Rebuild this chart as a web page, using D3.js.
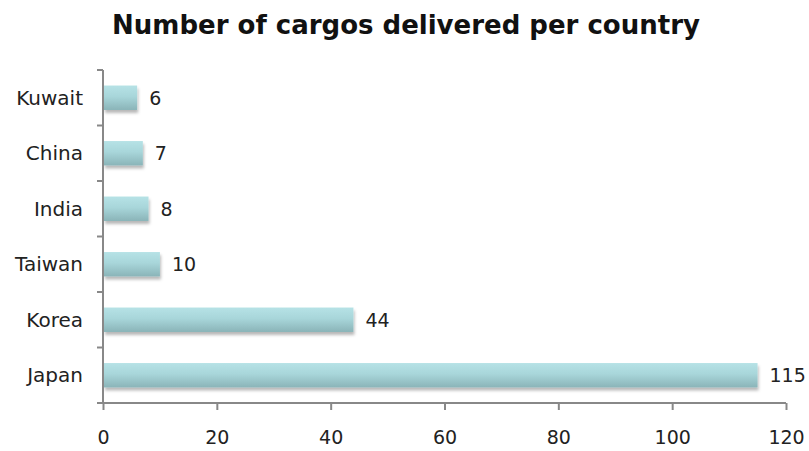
<!DOCTYPE html>
<html>
<head>
<meta charset="utf-8">
<script src="https://cdn.jsdelivr.net/npm/d3@7"></script>
<style>
  html, body { margin: 0; padding: 0; background: #fff; }
  svg { display: block; }
</style>
</head>
<body>
<svg id="chart" width="809" height="451"></svg>
<script>
const countries = ["Kuwait", "China", "India", "Taiwan", "Korea", "Japan"];
const cargos = [6, 7, 8, 10, 44, 115];
const xTicks = [0, 20, 40, 60, 80, 100, 120];
const title = "Number of cargos delivered per country";

const svg = d3.select("#chart");
const margin = { top: 70, right: 23, bottom: 48, left: 103 };
const W = 809, H = 451;
const fontFam = "'DejaVu Sans', sans-serif";

const x = d3.scaleLinear().domain([0, 120]).range([margin.left, W - margin.right]);
const y = d3.scaleBand().domain(countries).range([margin.top, H - margin.bottom]).paddingInner(0.56).paddingOuter(0.28);

// bar fill: pale teal fading darker towards the bottom, with a soft drop shadow
const defs = svg.append("defs");
const grad = defs.append("linearGradient").attr("id", "barGrad").attr("x1", 0).attr("y1", 0).attr("x2", 0).attr("y2", 1);
grad.append("stop").attr("offset", "0%").attr("stop-color", "#b6e2e6");
grad.append("stop").attr("offset", "45%").attr("stop-color", "#a8d6da");
grad.append("stop").attr("offset", "100%").attr("stop-color", "#8ab4b8");
const shadow = defs.append("filter").attr("id", "shadow").attr("x", "-5%").attr("y", "-30%").attr("width", "115%").attr("height", "180%");
shadow.append("feDropShadow").attr("dx", 1).attr("dy", 3).attr("stdDeviation", 1.5).attr("flood-color", "#000").attr("flood-opacity", 0.28);

svg.append("text")
  .attr("x", 406).attr("y", 34)
  .attr("text-anchor", "middle")
  .attr("font-family", fontFam)
  .attr("font-weight", "bold")
  .attr("font-size", 26)
  .attr("fill", "#111")
  .text(title);

const data = countries.map((c, i) => ({ country: c, value: cargos[i] }));

svg.append("g").selectAll("rect").data(data).join("rect")
  .attr("x", x(0) + 1)
  .attr("y", d => y(d.country))
  .attr("width", d => x(d.value) - x(0) - 1)
  .attr("height", y.bandwidth())
  .attr("fill", "url(#barGrad)")
  .attr("filter", "url(#shadow)");

// value labels at the bar ends
svg.append("g").selectAll("text").data(data).join("text")
  .attr("x", d => x(d.value) + 12)
  .attr("y", d => y(d.country) + y.bandwidth() / 2)
  .attr("dy", "0.36em")
  .attr("font-family", fontFam)
  .attr("font-size", 19)
  .attr("fill", "#222")
  .text(d => d.value);

// y axis with ticks on the category boundaries
const yAxisG = svg.append("g").attr("stroke", "#888").attr("stroke-width", 2);
yAxisG.append("line").attr("x1", x(0)).attr("x2", x(0)).attr("y1", margin.top).attr("y2", H - margin.bottom);
const bounds = d3.range(countries.length + 1).map(i => margin.top + i * (H - margin.bottom - margin.top) / countries.length);
yAxisG.selectAll("line.tick").data(bounds).join("line").attr("class", "tick")
  .attr("x1", x(0) - 6).attr("x2", x(0)).attr("y1", d => d).attr("y2", d => d);

svg.append("g").selectAll("text").data(data).join("text")
  .attr("x", x(0) - 20)
  .attr("y", d => y(d.country) + y.bandwidth() / 2)
  .attr("dy", "0.36em")
  .attr("text-anchor", "end")
  .attr("font-family", fontFam)
  .attr("font-size", 20)
  .attr("fill", "#222")
  .text(d => d.country);

// x axis
const xAxis = svg.append("g")
  .attr("transform", `translate(0,${H - margin.bottom})`)
  .call(d3.axisBottom(x).tickValues(xTicks).tickSize(7).tickPadding(21));
xAxis.select(".domain").attr("stroke", "#888").attr("stroke-width", 2).attr("d", `M${x(0)},0H${x(120)}`);
xAxis.selectAll(".tick line").attr("stroke", "#888").attr("stroke-width", 2);
xAxis.selectAll(".tick text").attr("font-family", fontFam).attr("font-size", 19).attr("fill", "#222");
</script>
</body>
</html>
